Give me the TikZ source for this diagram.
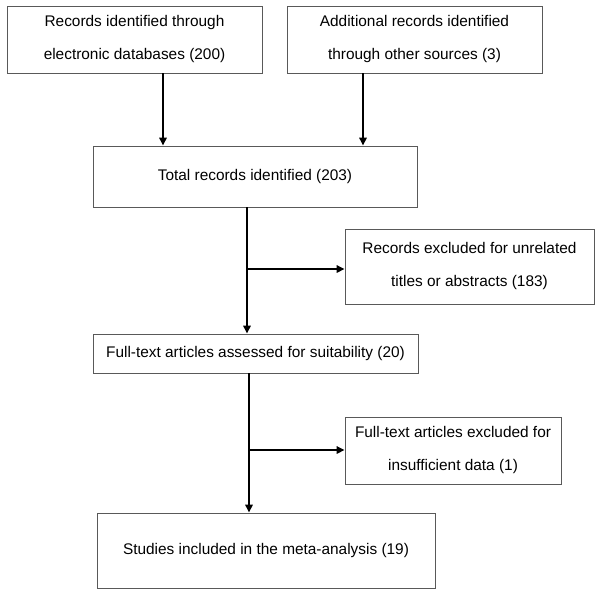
\documentclass[tikz,border=0pt]{standalone}
\usepackage{fontspec}
\setmainfont{Liberation Sans}
\usetikzlibrary{arrows.meta}
\begin{document}
\begin{tikzpicture}[x=1pt,y=-1pt,
  box/.style={draw=black!65, line width=0.9pt, align=center, inner sep=0pt,
    font=\fontsize{15.4}{33}\selectfont},
  arr/.style={line width=1.6pt, -{Triangle[length=8pt,width=7.5pt]}},
  ln/.style={line width=1.6pt}]
\useasboundingbox (0,0) rectangle (600,595);
\node[box, minimum width=255, minimum height=67] (b1) at (134.5,39.5) {Records identified through\\electronic databases (200)};
\node[box, minimum width=255, minimum height=67] (b2) at (414.5,39.5) {Additional records identified\\through other sources (3)};
\node[box, minimum width=324, minimum height=61] (b3) at (255,176.5) {Total records identified (203)};
\node[box, minimum width=249, minimum height=75] (b4) at (469.5,266.5) {Records excluded for unrelated\\titles or abstracts (183)};
\node[box, minimum width=325, minimum height=39] (b5) at (255.5,353.5) {Full-text articles assessed for suitability (20)};
\node[box, minimum width=216, minimum height=67] (b6) at (453,450.5) {Full-text articles excluded for\\insufficient data (1)};
\node[box, minimum width=338, minimum height=75] (b7) at (266,550.5) {Studies included in the meta-analysis (19)};
\draw[arr] ([xshift=28.5]b1.south) -- ([xshift=28.5]b1.south |- b3.north);
\draw[arr] ([xshift=-51.5]b2.south) -- ([xshift=-51.5]b2.south |- b3.north);
\coordinate (j1) at (247,269);
\coordinate (j2) at (249,450);
\draw[arr] ([xshift=-8]b3.south) -- ([xshift=-8]b3.south |- b5.north);
\draw[arr] (j1) -- (j1 -| b4.west);
\draw[arr] ([xshift=-6.5]b5.south) -- ([xshift=-6.5]b5.south |- b7.north);
\draw[arr] (j2) -- (j2 -| b6.west);
\end{tikzpicture}
\end{document}
